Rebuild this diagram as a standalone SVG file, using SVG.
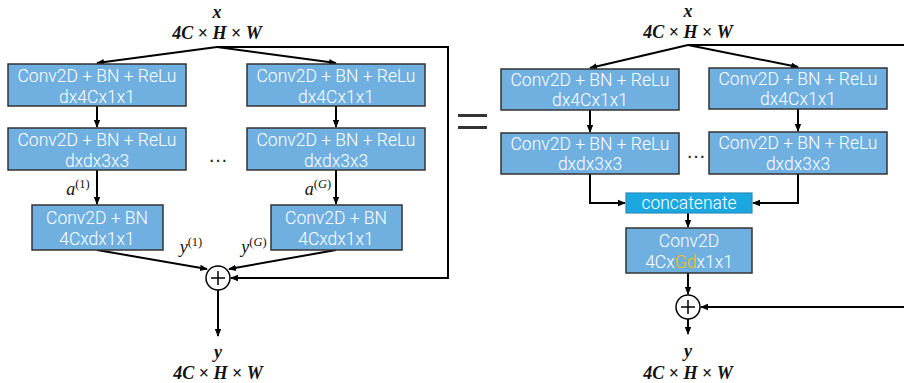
<svg xmlns="http://www.w3.org/2000/svg" width="904" height="383" viewBox="0 0 904 383">
  <style>
    .box { fill: #6fb0e1; stroke: #333; stroke-width: 1.5; }
    .cat { fill: #1ba8e0; stroke: #2b8dbd; stroke-width: 1.2; }
    .lbl { font-family: "Roboto Light", Roboto, "Liberation Sans", sans-serif; font-weight: 300; font-size: 17.5px; fill: #fff; text-anchor: middle; }
    .math { font-family: "Liberation Serif", "DejaVu Serif", serif; font-size: 18px; fill: #111; text-anchor: middle; }
    .mb { font-weight: bold; }
    .it { font-style: italic; }
    .sup { font-size: 12.5px; }
    .dots { font-family: "Liberation Sans", sans-serif; font-size: 20px; fill: #222; text-anchor: middle; }
    .line { fill: none; stroke: #000; stroke-width: 2; }
    .sum { fill: #fff; stroke: #000; stroke-width: 1.5; }
  </style>
  <defs>
    <marker id="ah" markerWidth="8" markerHeight="8" refX="7" refY="4" orient="auto" markerUnits="userSpaceOnUse">
      <path d="M0,0.8 L8,4 L0,7.2 Z" fill="#000"/>
    </marker>
  </defs>

  <rect width="904" height="383" fill="#fff"/>

  <!-- connectors -->
  <g id="connectors" class="line">
    <!-- left: grouped form -->
    <line x1="217" y1="47" x2="97" y2="63" marker-end="url(#ah)"/>
    <line x1="217" y1="47" x2="336" y2="63" marker-end="url(#ah)"/>
    <polyline points="217,47 448,47 448,278 231,278" marker-end="url(#ah)"/>
    <line x1="97" y1="106" x2="97" y2="127" marker-end="url(#ah)"/>
    <line x1="336" y1="106" x2="336" y2="127" marker-end="url(#ah)"/>
    <line x1="97" y1="170" x2="97" y2="204" marker-end="url(#ah)"/>
    <line x1="336" y1="170" x2="336" y2="204" marker-end="url(#ah)"/>
    <line x1="97" y1="250" x2="207" y2="269" marker-end="url(#ah)"/>
    <line x1="336" y1="250" x2="229" y2="269" marker-end="url(#ah)"/>
    <line x1="218" y1="290" x2="218" y2="336" marker-end="url(#ah)"/>
    <!-- right: concatenated form -->
    <line x1="688" y1="45" x2="590" y2="68" marker-end="url(#ah)"/>
    <line x1="688" y1="45" x2="798" y2="67" marker-end="url(#ah)"/>
    <line x1="688" y1="45" x2="904" y2="45"/>
    <line x1="590" y1="110" x2="590" y2="132" marker-end="url(#ah)"/>
    <line x1="798" y1="109" x2="798" y2="131" marker-end="url(#ah)"/>
    <polyline points="590,174 590,203 625,203" marker-end="url(#ah)"/>
    <polyline points="798,174 798,203 753,203" marker-end="url(#ah)"/>
    <line x1="688" y1="213" x2="688" y2="227" marker-end="url(#ah)"/>
    <line x1="688" y1="273" x2="688" y2="294" marker-end="url(#ah)"/>
    <line x1="904" y1="307" x2="701" y2="307" marker-end="url(#ah)"/>
    <line x1="688" y1="319" x2="688" y2="334" marker-end="url(#ah)"/>
  </g>

  <!-- left: input / output labels -->
  <g id="left-in">
    <text class="math mb it" x="217" y="18">x</text>
    <text class="math mb" x="217" y="39"><tspan class="it">4C</tspan> × <tspan class="it">H</tspan> × <tspan class="it">W</tspan></text>
  </g>
  <g id="left-out">
    <text class="math mb it" x="218" y="358">y</text>
    <text class="math mb" x="218" y="379"><tspan class="it">4C</tspan> × <tspan class="it">H</tspan> × <tspan class="it">W</tspan></text>
  </g>

  <g id="l-b1a"><rect class="box" x="8" y="64" width="178" height="42"/>
    <text class="lbl" x="97" y="82">Conv2D + BN + ReLu</text><text class="lbl" x="97" y="103">dx4Cx1x1</text></g>
  <g id="l-bGa"><rect class="box" x="247" y="64" width="178" height="42"/>
    <text class="lbl" x="336" y="82">Conv2D + BN + ReLu</text><text class="lbl" x="336" y="103">dx4Cx1x1</text></g>
  <g id="l-b1b"><rect class="box" x="8" y="128" width="178" height="42"/>
    <text class="lbl" x="97" y="146">Conv2D + BN + ReLu</text><text class="lbl" x="97" y="167">dxdx3x3</text></g>
  <g id="l-bGb"><rect class="box" x="247" y="128" width="178" height="42"/>
    <text class="lbl" x="336" y="146">Conv2D + BN + ReLu</text><text class="lbl" x="336" y="167">dxdx3x3</text></g>
  <g id="l-b1c"><rect class="box" x="32" y="205" width="131" height="45"/>
    <text class="lbl" x="97" y="224">Conv2D + BN</text><text class="lbl" x="97" y="245">4Cxdx1x1</text></g>
  <g id="l-bGc"><rect class="box" x="271" y="205" width="131" height="45"/>
    <text class="lbl" x="336" y="224">Conv2D + BN</text><text class="lbl" x="336" y="245">4Cxdx1x1</text></g>

  <text class="dots" x="218" y="162">…</text>

  <g id="l-edge-labels" class="math">
    <text x="78" y="195"><tspan class="it">a</tspan><tspan class="sup" dy="-7">(1)</tspan></text>
    <text x="318" y="195"><tspan class="it">a</tspan><tspan class="sup" dy="-7">(<tspan class="it">G</tspan>)</tspan></text>
    <text x="191" y="253"><tspan class="it">y</tspan><tspan class="sup" dy="-7">(1)</tspan></text>
    <text x="254" y="253"><tspan class="it">y</tspan><tspan class="sup" dy="-7">(<tspan class="it">G</tspan>)</tspan></text>
  </g>

  <g id="l-sum">
    <circle class="sum" cx="218" cy="278" r="12"/>
    <path d="M211,278 H225 M218,271 V285" stroke="#000" stroke-width="1.5"/>
  </g>

  <!-- equals sign -->
  <g id="equals" fill="#333">
    <rect x="458" y="114" width="29" height="3"/>
    <rect x="458" y="126" width="29" height="3"/>
  </g>

  <!-- right: input / output labels -->
  <g id="right-in">
    <text class="math mb it" x="688" y="17">x</text>
    <text class="math mb" x="688" y="38"><tspan class="it">4C</tspan> × <tspan class="it">H</tspan> × <tspan class="it">W</tspan></text>
  </g>
  <g id="right-out">
    <text class="math mb it" x="688" y="357">y</text>
    <text class="math mb" x="688" y="379"><tspan class="it">4C</tspan> × <tspan class="it">H</tspan> × <tspan class="it">W</tspan></text>
  </g>

  <g id="r-b1a"><rect class="box" x="501" y="69" width="178" height="41"/>
    <text class="lbl" x="590" y="86">Conv2D + BN + ReLu</text><text class="lbl" x="590" y="106">dx4Cx1x1</text></g>
  <g id="r-bGa"><rect class="box" x="709" y="68" width="178" height="41"/>
    <text class="lbl" x="798" y="85">Conv2D + BN + ReLu</text><text class="lbl" x="798" y="105">dx4Cx1x1</text></g>
  <g id="r-b1b"><rect class="box" x="501" y="133" width="178" height="41"/>
    <text class="lbl" x="590" y="150">Conv2D + BN + ReLu</text><text class="lbl" x="590" y="170">dxdx3x3</text></g>
  <g id="r-bGb"><rect class="box" x="709" y="132" width="178" height="42"/>
    <text class="lbl" x="798" y="149">Conv2D + BN + ReLu</text><text class="lbl" x="798" y="170">dxdx3x3</text></g>

  <text class="dots" x="696" y="158">…</text>

  <g id="r-concat"><rect class="cat" x="626" y="193" width="126" height="20"/>
    <text class="lbl" x="689" y="209">concatenate</text></g>
  <g id="r-conv"><rect class="box" x="626" y="228" width="126" height="45"/>
    <text class="lbl" x="689" y="247">Conv2D</text>
    <text class="lbl" x="689" y="268">4Cx<tspan fill="#f7bd0f">Gd</tspan>x1x1</text></g>

  <g id="r-sum">
    <circle class="sum" cx="688" cy="307" r="12"/>
    <path d="M681,307 H695 M688,300 V314" stroke="#000" stroke-width="1.5"/>
  </g>
</svg>
